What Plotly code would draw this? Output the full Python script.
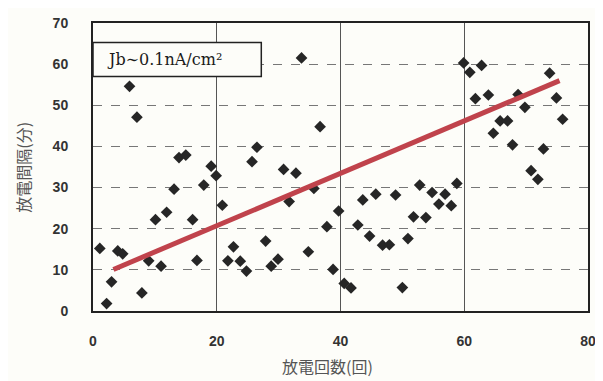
import plotly.graph_objects as go

# discharge count (x) and discharge interval in minutes (y)
count = [1.1, 2.2, 3.0, 4.0, 4.8, 5.9, 7.1, 7.9, 9.0, 10.1, 11.0, 11.9, 13.1, 13.9, 15.0,
         16.1, 16.8, 17.9, 19.1, 19.9, 20.9, 21.8, 22.7, 23.8, 24.8, 25.7, 26.5,
         27.9, 28.8, 29.9, 30.8, 31.7, 32.8, 33.7, 34.8, 35.7, 36.7, 37.8, 38.8, 39.7,
         40.6, 41.7, 42.8, 43.6, 44.7, 45.7, 46.8, 47.9, 48.9, 50.0, 50.9, 51.8,
         52.8, 53.8, 54.8, 55.9, 56.9, 57.9, 58.8, 59.9, 60.9, 61.8, 62.8, 63.9,
         64.7, 65.8, 67.0, 67.8, 68.7, 69.8, 70.8, 71.9, 72.8, 73.8, 74.9, 75.9]
interval = [15.2, 1.8, 7.1, 14.6, 13.9, 54.6, 47.1, 4.4, 12.2, 22.2, 10.9, 24.0, 29.6, 37.3, 37.9,
            22.2, 12.3, 30.6, 35.2, 32.9, 25.7, 12.2, 15.6, 12.1, 9.7, 36.3, 39.8,
            17.0, 10.9, 12.6, 34.4, 26.6, 33.5, 61.5, 14.4, 29.8, 44.8, 20.5, 10.1, 24.3,
            6.7, 5.6, 20.9, 27.0, 18.2, 28.4, 16.0, 16.1, 28.2, 5.7, 17.6, 22.9,
            30.6, 22.7, 28.8, 26.0, 28.4, 25.6, 31.0, 60.3, 58.0, 51.6, 59.7, 52.5,
            43.2, 46.2, 46.2, 40.4, 52.6, 49.5, 34.1, 32.0, 39.4, 57.8, 51.8, 46.6]

trend_x = [3.3, 75.4]
trend_y = [10.1, 56.0]

x_ticks = [0, 20, 40, 60, 80]
y_ticks = [0, 10, 20, 30, 40, 50, 60, 70]

fig = go.Figure()
fig.add_trace(go.Scatter(x=count, y=interval, mode="markers",
                         marker=dict(symbol="diamond", size=9, color="#262626"),
                         showlegend=False))
fig.add_trace(go.Scatter(x=trend_x, y=trend_y, mode="lines",
                         line=dict(color="#c0434c", width=5), showlegend=False))

tick_font = dict(family="Liberation Sans", size=14, color="#333333", weight="bold")

fig.update_layout(
    width=595, height=373,
    margin=dict(l=85, r=10, t=7, b=70),
    paper_bgcolor="#fdfdf9", plot_bgcolor="#fdfdf9",
    xaxis=dict(range=[0, 80], tickvals=x_ticks, showgrid=True, gridcolor="#555555",
               gridwidth=1, zeroline=False, showline=True, linecolor="#222222",
               linewidth=2, mirror=True, ticks="", tickfont=tick_font, ticklabelstandoff=16),
    yaxis=dict(range=[0, 70], tickvals=y_ticks, showgrid=True, gridcolor="#777777",
               griddash="dash", gridwidth=1, zeroline=False, showline=True, linecolor="#222222",
               linewidth=2, mirror=True, ticks="", tickfont=tick_font, ticklabelstandoff=20),
    shapes=[dict(type="rect", xref="paper", yref="paper", x0=0, x1=0.34, y0=0.814, y1=0.932,
                 line=dict(color="#222222", width=1.5), fillcolor="#fdfdf9", layer="above")],
    annotations=[
        dict(text="Jb∼0.1nA/cm²", xref="paper", yref="paper", x=0.024, y=0.873,
             xanchor="left", yanchor="middle", showarrow=False,
             font=dict(family="DejaVu Serif", size=16, color="#1a1a1a")),
        dict(text="放電回数(回)", xref="paper", yref="paper", x=0.474, y=-0.19,
             xanchor="center", yanchor="middle", showarrow=False,
             font=dict(family="Noto Sans CJK JP", size=16, color="#555555")),
        dict(text="放電間隔(分)", xref="paper", yref="paper", x=-0.142, y=0.5,
             xanchor="center", yanchor="middle", showarrow=False, textangle=-90,
             font=dict(family="Noto Sans CJK JP", size=16, color="#555555")),
    ],
)

fig.write_html("out.html")
